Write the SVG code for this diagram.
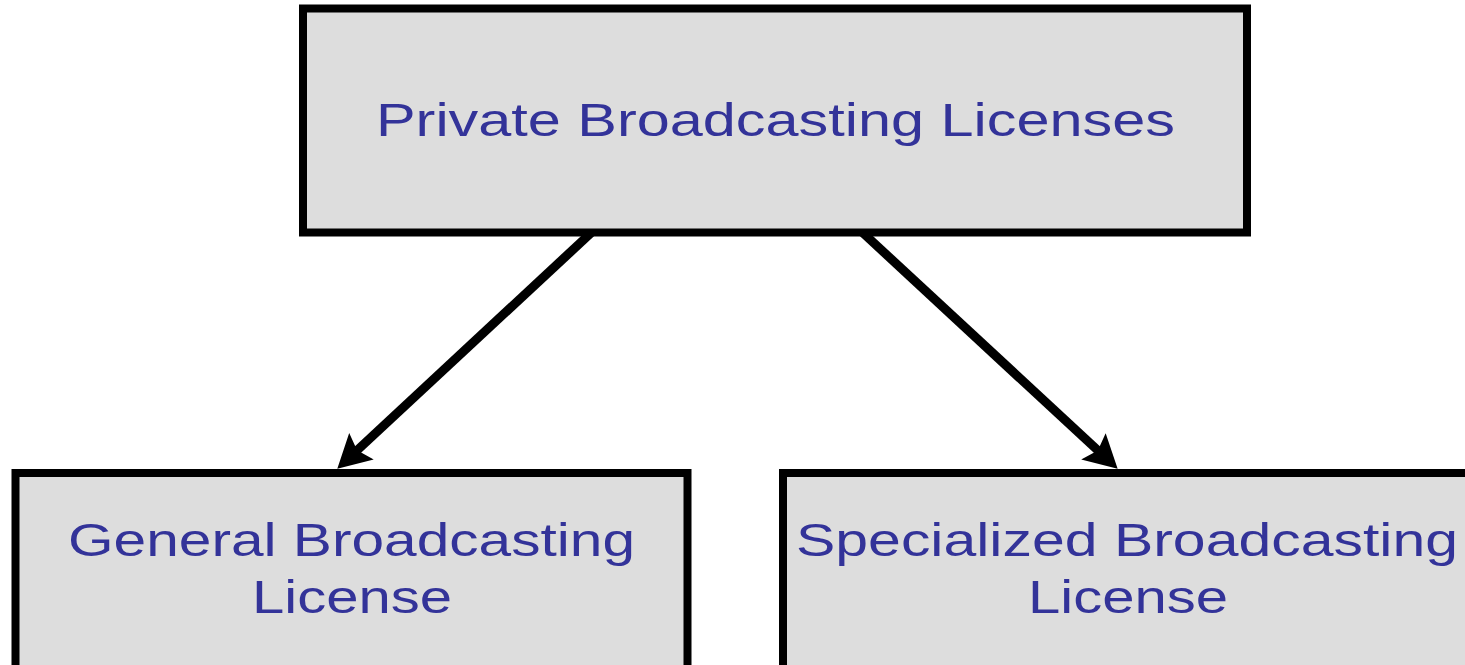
<svg xmlns="http://www.w3.org/2000/svg" width="1465" height="665" viewBox="0 0 1465 665">
<style>
.box{fill:#dddddd;stroke:#000;stroke-width:8}
.lbl{font-family:"Liberation Sans",Arial,sans-serif;font-size:47px;fill:#333399;text-anchor:middle}
.edge{stroke:#000;stroke-width:9;fill:none}
</style>
<defs>
<marker id="ah" markerUnits="userSpaceOnUse" markerWidth="36" markerHeight="38" viewBox="0 0 36 38" refX="8" refY="19" orient="auto">
<path d="M0,1 L33,19 L0,37 L6,19 Z" fill="#000"/>
</marker>
</defs>
<g id="connectors">
<line class="edge" x1="592" y1="232" x2="355.6" y2="451.7" marker-end="url(#ah)"/>
<line class="edge" x1="862" y1="232" x2="1099.3" y2="451.8" marker-end="url(#ah)"/>
</g>
<g id="node-private">
<rect class="box" x="303" y="8.5" width="944" height="224"/>
<text class="lbl" x="775.5" y="136" textLength="799" lengthAdjust="spacingAndGlyphs">Private Broadcasting Licenses</text>
</g>
<g id="node-general">
<rect class="box" x="15.5" y="473" width="672" height="200"/>
<text class="lbl" x="351.5" y="556" textLength="567" lengthAdjust="spacingAndGlyphs">General Broadcasting</text>
<text class="lbl" x="352" y="613" textLength="200" lengthAdjust="spacingAndGlyphs">License</text>
</g>
<g id="node-specialized">
<rect class="box" x="783" y="473" width="688" height="200"/>
<text class="lbl" x="1127" y="556" textLength="662" lengthAdjust="spacingAndGlyphs">Specialized Broadcasting</text>
<text class="lbl" x="1128" y="613" textLength="200" lengthAdjust="spacingAndGlyphs">License</text>
</g>
</svg>
